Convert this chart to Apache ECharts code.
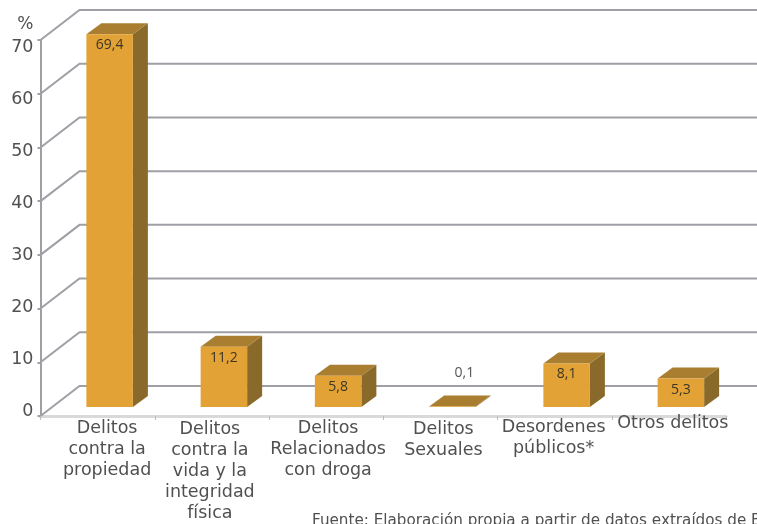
<!DOCTYPE html>
<html><head><meta charset="utf-8">
<style>html,body{margin:0;padding:0;background:#fff}#c{width:757px;height:524px}</style>
<script src="https://cdn.jsdelivr.net/npm/echarts@6/dist/echarts.min.js"></script>
</head><body><div id="c"></div>
<script>
const categories = ['Delitos\ncontra la\npropiedad','Delitos\ncontra la\nvida y la\nintegridad\nfísica','Delitos\nRelacionados\ncon droga','Delitos\nSexuales','Desordenes\npúblicos*','Otros delitos'];
const values = [69.4, 11.2, 5.8, 0.1, 8.1, 5.3];
const yTicks = [0,10,20,30,40,50,60,70];
const sourceNote = 'Fuente: Elaboración propia a partir de datos extraídos de B';

const FONT = '"DejaVu Sans"';
const TXT = '#505050', WALL = '#9f9fa6';
const nudges = [[5,0,0,19],[6,4,0,0],[5,0,0,4],[6,0,0,6],[4,2,0,0],[0,0,0,8]];
const chart = echarts.init(document.getElementById('c'), null, {renderer:'canvas'});
const DEPTH = [39,-30], OFF = [12,-9], TOP = [15,-11], BARW = 46.5;

function renderWall(params, api){
  const v = api.value(0), cs = params.coordSys;
  const p0 = api.coord([0, v]);
  const a = [cs.x, p0[1]], b = [cs.x+DEPTH[0], p0[1]+DEPTH[1]], c = [cs.x+cs.width+DEPTH[0], p0[1]+DEPTH[1]];
  return {type:'polyline', shape:{points:[a,b,c]}, style:{stroke:WALL, lineWidth:2, fill:null}, silent:true};
}
function renderBar(params, api){
  const i = api.value(0), v = api.value(1);
  const base = api.coord([i,0]), top = api.coord([i,v]);
  const cx = base[0]+OFF[0], x0 = cx-BARW/2, x1 = cx+BARW/2, yb = base[1]+OFF[1], yt = top[1]+OFF[1];
  const small = v < 1;
  return {type:'group', children:[
    {type:'polygon', shape:{points:[[x1,yb],[x1+TOP[0],yb+TOP[1]],[x1+TOP[0],yt+TOP[1]],[x1,yt]]}, style:{fill:'#8a6a2a'}},
    {type:'polygon', shape:{points:[[x0,yt],[x0+TOP[0],yt+TOP[1]],[x1+TOP[0],yt+TOP[1]],[x1,yt]]}, style:{fill:'#a97e30'}},
    {type:'rect', shape:{x:x0,y:yt,width:BARW,height:yb-yt}, style:{fill:'#e3a235'}},
    {type:'text', style:{x:cx+(small?12:0), y:yt+(small?-33:11), text:String(v).replace('.',','), fill:small?'#555':'#3c3626', font:'14px "Open Sans"', align:'center', verticalAlign:'middle'}}
  ]};
}
chart.setOption({
  animation:false,
  backgroundColor:'#fff',
  grid:[
    {left:40.5, right:31, top:40, bottom:108},
    {left:40.5, right:31, top:47.5, bottom:113}
  ],
  xAxis:[
    {type:'category', gridIndex:0, data:categories.map((c,i)=>({value:c, textStyle:{padding:nudges[i]}})),
      axisLine:{lineStyle:{color:'#d9d9d9', width:3}},
      axisTick:{show:true, alignWithLabel:false, length:4, lineStyle:{color:'#bdbdbd', width:1}},
      axisLabel:{interval:0, margin:-3, color:TXT, fontFamily:FONT, fontSize:17.5, lineHeight:21, align:'center', hideOverlap:false}},
    {type:'category', gridIndex:1, data:categories, show:false}
  ],
  yAxis:[
    {type:'value', gridIndex:0, min:0, max:70, interval:10, axisLabel:{show:false}, splitLine:{show:false},
      axisLine:{show:true, onZero:false, lineStyle:{color:WALL, width:2}},
      axisTick:{show:true, length:3, lineStyle:{color:WALL, width:2}}},
    {type:'value', gridIndex:1, min:0, max:70, interval:10, name:'%', nameLocation:'end', nameGap:14,
      nameTextStyle:{color:TXT, fontFamily:FONT, fontSize:17, align:'right', padding:[0,7,0,0]},
      splitLine:{show:false}, axisLine:{show:false}, axisTick:{show:false},
      axisLabel:{margin:7, color:TXT, fontFamily:FONT, fontSize:17.5}}
  ],
  series:[
    {type:'custom', name:'wall', xAxisIndex:0, yAxisIndex:0, z:1, clip:false, renderItem:renderWall,
      data:yTicks.map(v=>[v]), encode:{y:0}},
    {type:'custom', name:'%', xAxisIndex:0, yAxisIndex:0, z:3, clip:false, renderItem:renderBar,
      data:values.map((v,i)=>[i,v]), encode:{x:0,y:1}}
  ],
  graphic:[{type:'text', left:312, top:514, style:{text:sourceNote, fill:TXT, font:'15.2px '+FONT}}]
});
</script></body></html>
